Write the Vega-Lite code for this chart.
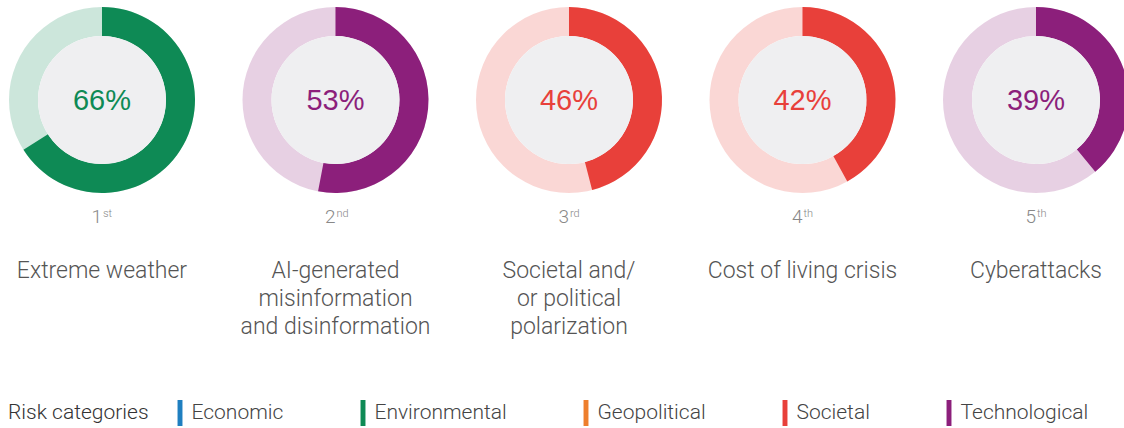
{
  "$schema": "https://vega.github.io/schema/vega-lite/v6.json",
  "width": 1124,
  "height": 428,
  "autosize": "none",
  "padding": 0,
  "background": "white",
  "config": {"view": {"stroke": null}},
  "data": {"values": [
    {"rank": 1, "suffix": "st", "share": 0.66, "risk": "Extreme weather", "category": "Environmental"},
    {"rank": 2, "suffix": "nd", "share": 0.53, "risk": "AI-generated\nmisinformation\nand disinformation", "category": "Technological"},
    {"rank": 3, "suffix": "rd", "share": 0.46, "risk": "Societal and/\nor political\npolarization", "category": "Societal"},
    {"rank": 4, "suffix": "th", "share": 0.42, "risk": "Cost of living crisis", "category": "Societal"},
    {"rank": 5, "suffix": "th", "share": 0.39, "risk": "Cyberattacks", "category": "Technological"}
  ]},
  "layer": [
    {
      "mark": {"type": "arc", "innerRadius": 64, "outerRadius": 93, "theta": 0, "theta2": 6.2832, "opacity": 0.21},
      "encoding": {
        "x": {"field": "rank", "type": "quantitative", "stack": null, "scale": {"domain": [0.5632, 5.3769], "nice": false, "zero": false}, "axis": null},
        "y": {"datum": 100, "type": "quantitative", "scale": {"domain": [0, 428], "nice": false, "reverse": true}, "axis": null},
        "color": {"field": "category", "type": "nominal",
          "scale": {"domain": ["Economic", "Environmental", "Geopolitical", "Societal", "Technological"],
                    "range": ["#1f7fc0", "#0e8a55", "#ee7f2d", "#e8403a", "#8c1f7b"]},
          "legend": {
            "title": "Risk categories", "orient": "none", "legendX": 8, "legendY": 400,
            "direction": "horizontal", "titleOrient": "left", "titlePadding": 18,
            "titleFontSize": 21, "titleFont": "Roboto", "titleFontWeight": 300, "titleColor": "#333333",
            "titleBaseline": "middle", "titleAnchor": "middle",
            "labelFontSize": 21, "labelFont": "Roboto", "labelFontWeight": 300, "labelColor": "#444444",
            "labelOffset": -1.5, "columnPadding": 66,
            "symbolType": "M-0.19,-1H0.19V1H-0.19Z", "symbolSize": 676, "symbolStrokeWidth": 0, "symbolOpacity": 1
          }}
      }
    },
    {
      "mark": {"type": "arc", "innerRadius": 64, "outerRadius": 93},
      "encoding": {
        "x": {"field": "rank", "type": "quantitative", "stack": null},
        "y": {"datum": 100, "type": "quantitative"},
        "theta": {"field": "share", "type": "quantitative", "stack": null, "scale": {"domain": [0, 1], "range": [0, 6.2832]}},
        "theta2": {"datum": 0},
        "color": {"field": "category", "type": "nominal"}
      }
    },
    {
      "mark": {"type": "arc", "innerRadius": 0, "outerRadius": 64, "theta": 0, "theta2": 6.2832, "color": "#efeff1"},
      "encoding": {
        "x": {"field": "rank", "type": "quantitative", "stack": null},
        "y": {"datum": 100, "type": "quantitative"}
      }
    },
    {
      "mark": {"type": "text", "font": "Liberation Sans", "fontSize": 29, "align": "center", "baseline": "middle"},
      "encoding": {
        "x": {"field": "rank", "type": "quantitative"},
        "y": {"datum": 100.5, "type": "quantitative"},
        "text": {"field": "share", "type": "quantitative", "format": ".0%"},
        "color": {"field": "category", "type": "nominal"}
      }
    },
    {
      "mark": {"type": "text", "font": "Roboto", "fontWeight": 300, "fontSize": 19, "align": "right", "baseline": "alphabetic", "dx": 0, "color": "#888888"},
      "encoding": {
        "x": {"field": "rank", "type": "quantitative"},
        "y": {"datum": 223, "type": "quantitative"},
        "text": {"field": "rank", "type": "quantitative"}
      }
    },
    {
      "mark": {"type": "text", "font": "Roboto", "fontWeight": 300, "fontSize": 11, "align": "left", "baseline": "alphabetic", "dx": 1, "color": "#888888"},
      "encoding": {
        "x": {"field": "rank", "type": "quantitative"},
        "y": {"datum": 217, "type": "quantitative"},
        "text": {"field": "suffix", "type": "nominal"}
      }
    },
    {
      "mark": {"type": "text", "font": "Roboto", "fontWeight": 300, "fontSize": 23, "align": "center", "baseline": "top", "lineBreak": "\n", "lineHeight": 28, "color": "#555555"},
      "encoding": {
        "x": {"field": "rank", "type": "quantitative"},
        "y": {"datum": 260, "type": "quantitative"},
        "text": {"field": "risk", "type": "nominal"}
      }
    }
  ]
}
